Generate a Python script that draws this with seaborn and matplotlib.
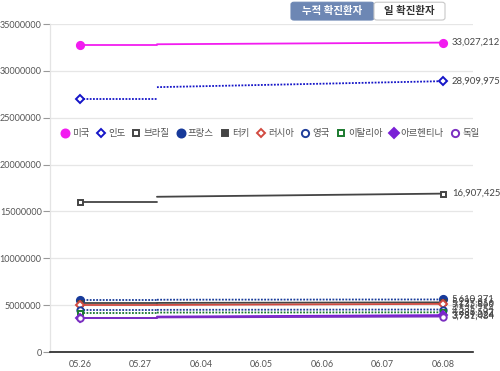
import numpy as np
import pandas as pd
import seaborn as sns
import matplotlib.pyplot as plt
from matplotlib.lines import Line2D
from matplotlib.patches import FancyBboxPatch

# 날짜 (x축)
dates = ["05.26", "05.27", "06.04", "06.05", "06.06", "06.07", "06.08"]

countries = ["미국", "인도", "브라질", "프랑스", "터키", "러시아", "영국", "이탈리아", "아르헨티나", "독일"]

# 누적 확진자: 시작값(05.26), 끊긴 지점 이후 값, 마지막 값(06.08)
start_vals = [32760000, 27000000, 16040000, 5540000, 5190000, 4990000, 4470000, 4190000, 3620000, 3660000]
mid_vals = [32850000, 28270000, 16570000, 5580000, 5240000, 5020000, 4500000, 4210000, 3780000, 3690000]
end_vals = [33027212, 28909975, 16907425, 5610271, 5297816, 5135866, 4535754, 4235592, 3939024, 3781484]

colors = ["#f21cf0", "#1515c8", "#444444", "#173a9a", "#444444",
          "#d24a40", "#1f3d99", "#1b7a2e", "#7a1fd6", "#7b2fc0"]
linestyles = ["-", ":", "-", ":", "-", "-", ":", ":", "-", "-"]
markers = ["o", "D", "s", "o", "s", "D", "o", "s", "D", "o"]
filled = [True, False, False, True, True, False, False, False, True, False]
msizes = [5.2, 3.6, 3.6, 5.2, 3.6, 3.6, 4.6, 3.6, 4.2, 4.6]

yticks = [0, 5000000, 10000000, 15000000, 20000000, 25000000, 30000000, 35000000]

# 원본 차트는 05.27 바로 뒤에서 선이 끊김
x_break = 1.27

sns.set_theme(style="white")
plt.rcParams["font.family"] = ["Lato", "Noto Sans CJK KR", "DejaVu Sans"]

fig = plt.figure(figsize=(5, 3.71), dpi=100)
ax = fig.add_axes([0.1, 0.0512, 0.846, 0.8838])

x_last = len(dates) - 1
for i, name in enumerate(countries):
    seg1 = pd.DataFrame({"x": [0, x_break], "y": [start_vals[i], start_vals[i]]})
    seg2 = pd.DataFrame({"x": [x_break, x_last], "y": [mid_vals[i], end_vals[i]]})
    dotted = linestyles[i] == ":"
    ls = (0, (1, 0.8)) if dotted else "-"
    for seg in (seg1, seg2):
        sns.lineplot(data=seg, x="x", y="y", ax=ax, color=colors[i],
                     linestyle=ls, linewidth=1.3, zorder=2)
    ends = pd.DataFrame({"x": [0, x_last], "y": [start_vals[i], end_vals[i]]})
    fc = colors[i] if filled[i] else "white"
    ax.plot(ends["x"], ends["y"], linestyle="none", marker=markers[i],
            markersize=msizes[i], markerfacecolor=fc, markeredgecolor=colors[i],
            markeredgewidth=1.4, zorder=3)
    ax.annotate(f"{end_vals[i]:,}", (x_last, end_vals[i]), xytext=(6.5, 0),
                textcoords="offset points", fontsize=6.8, color="#444444",
                va="center", ha="left", annotation_clip=False)

ax.set_xlim(-0.5, 6.5)
ax.set_ylim(0, 35000000)
ax.set_xticks(range(len(dates)))
ax.set_xticklabels(dates, fontsize=6.5, color="#555555")
ax.set_yticks(yticks)
ax.set_yticklabels([str(v) for v in yticks], fontsize=6.5, color="#555555")
ax.set_xlabel("")
ax.set_ylabel("")
ax.tick_params(axis="y", length=5, width=0.8, color="#999999", pad=1, left=True)
ax.tick_params(axis="x", length=0, pad=6)
ax.grid(axis="y", color="#e6e6e6", linewidth=0.9)
ax.set_axisbelow(True)
for side in ["top", "right"]:
    ax.spines[side].set_visible(False)
ax.spines["left"].set_color("#e4e4e4")
ax.spines["left"].set_linewidth(0.9)
ax.spines["bottom"].set_color("#222222")
ax.spines["bottom"].set_linewidth(1.2)

handles = []
for i, name in enumerate(countries):
    fc = colors[i] if filled[i] else "white"
    handles.append(Line2D([], [], linestyle="none", marker=markers[i],
                          markersize=msizes[i] + 0.6, markerfacecolor=fc,
                          markeredgecolor=colors[i], markeredgewidth=1.4, label=name))
leg = ax.legend(handles=handles, loc="center", bbox_to_anchor=(0.52, 0.665), ncol=10,
                frameon=False, fontsize=6.8, handletextpad=0.25, columnspacing=0.7,
                handlelength=1.0)
for t in leg.get_texts():
    t.set_color("#555555")

# 상단 탭 버튼
fig.patches.append(FancyBboxPatch((0.582, 0.946), 0.166, 0.048,
                                  boxstyle="round,pad=0,rounding_size=0.006",
                                  transform=fig.transFigure, facecolor="#6d87b4",
                                  edgecolor="#6d87b4", linewidth=0.8))
fig.patches.append(FancyBboxPatch((0.748, 0.946), 0.142, 0.048,
                                  boxstyle="round,pad=0,rounding_size=0.006",
                                  transform=fig.transFigure, facecolor="white",
                                  edgecolor="#c8c8c8", linewidth=0.8))
fig.text(0.665, 0.970, "누적 확진환자", ha="center", va="center", fontsize=7.5,
         color="white", fontweight="bold")
fig.text(0.819, 0.970, "일 확진환자", ha="center", va="center", fontsize=7.5,
         color="#333333", fontweight="bold")

fig.savefig("out.png", dpi=100, facecolor="white")
